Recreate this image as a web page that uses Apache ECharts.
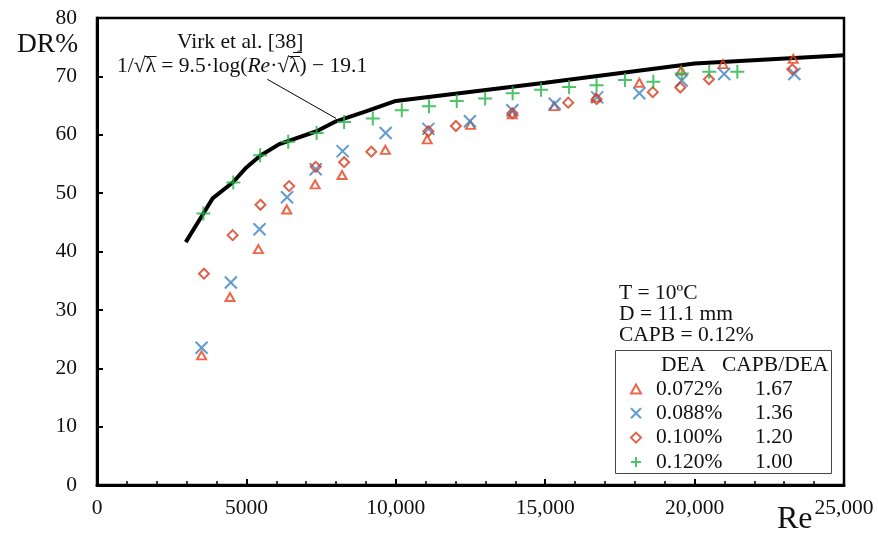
<!DOCTYPE html>
<html>
<head>
<meta charset="utf-8">
<script src="https://cdn.jsdelivr.net/npm/echarts@6/dist/echarts.min.js"></script>
<style>html,body{margin:0;padding:0;background:#fff}#c{width:878px;height:537px}</style>
</head>
<body>
<div id="c"></div>
<script>
// ---- data ----
const triX = [3500,4450,5400,6350,7300,8200,9650,11050,12500,13900,15300,16700,18150,19550,20950,23300];
const triY = [22.2,32.2,40.4,47.2,51.5,53.1,57.4,59.2,61.7,63.5,64.9,66.4,68.9,71.0,72.1,73.0];
const crossX = [3500,4480,5440,6360,7320,8220,9660,11090,12480,13900,15320,16740,18150,19570,20990,23340];
const crossY = [23.5,34.7,43.8,49.3,54.1,57.2,60.3,61.0,62.3,64.2,65.3,66.4,67.1,69.3,70.4,70.4];
const diaX = [3580,4540,5470,6430,7320,8270,9180,11090,12010,13900,15770,16720,18600,19520,20480,23270];
const diaY = [36.2,42.8,48.0,51.2,54.5,55.3,57.1,60.6,61.5,63.7,65.5,66.1,67.3,68.1,69.5,71.2];
const plusX = [3560,4560,5460,6400,7350,8270,9230,10200,11110,12040,12990,13910,14860,15800,16720,17670,18620,19570,20490,21430];
const plusY = [46.5,51.8,56.5,58.8,60.3,62.2,62.8,64.2,64.9,65.8,66.2,67.1,67.7,68.2,68.5,69.4,69.1,70.5,70.8,70.8];
const virkX = [2970,3560,3870,4560,5000,5460,6100,7350,8000,9000,10000,15000,20000,25000];
const virkY = [41.6,46.5,49.1,51.9,54.4,56.4,58.4,60.6,62.3,64.0,65.8,68.9,72.2,73.6];
const seriesNames = ['0.072%','0.088%','0.100%','0.120%'];
const ratios = ['1.67','1.36','1.20','1.00'];
const xTickLabels = {0:'0',5000:'5000',10000:'10,000',15000:'15,000',20000:'20,000',25000:'25,000'};
const arrowStart = [5700, 69.5];
const arrowEnd = [8000, 62.8];

const zip = (xs, ys) => xs.map((x, i) => [x, ys[i]]);
const FONT = 'Liberation Serif';
const FS = 21.5;
const F = FS + 'px "Liberation Serif"';
const FI = 'italic ' + F;
const TRANSP = 'rgba(0,0,0,0)';

// text measurement for the radical overbars
const mctx = document.createElement('canvas').getContext('2d');
const tw = (s, f) => { mctx.font = f; return mctx.measureText(s).width; };
const eqLeft = 117, eqTop = 55, barY = 56.5;
const b1x = eqLeft + tw('1/√', F);
const b1w = tw('λ', F);
const b2x = eqLeft + tw('1/√λ = 9.5·log(', F) + tw('Re', FI) + tw('·√', F);

const symbols = [
  'path://M5,0L10,9L0,9Z',
  'path://M0,0L10,10M10,0L0,10',
  'path://M5,0L10,5L5,10L0,5Z',
  'path://M5,0L5,10M0,5L10,5'
];
const colors = ['#E8401C', '#3A82C4', '#D63A1C', '#22B445'];
const sizes = [[9,8],[12,12],[10,10],[14,14]];
const datas = [zip(triX,triY), zip(crossX,crossY), zip(diaX,diaY), zip(plusX,plusY)];

const scatter = seriesNames.map((n, i) => ({
  name: n, type: 'scatter', data: datas[i], symbol: symbols[i], symbolSize: sizes[i],
  itemStyle: { color: TRANSP, borderColor: colors[i], borderWidth: 2 },
  emphasis: { disabled: true }, z: 3
}));

const chart = echarts.init(document.getElementById('c'), null, { renderer: 'canvas' });
chart.setOption({
  animation: false,
  backgroundColor: '#fff',
  textStyle: { fontFamily: FONT },
  grid: { left: 97, right: 34, top: 18, bottom: 52, show: true, borderColor: '#000', borderWidth: 2.5, backgroundColor: TRANSP },
  xAxis: {
    type: 'value', min: 0, max: 25000, interval: 5000,
    axisLine: { show: true, onZero: false, lineStyle: { color: '#000', width: 3 } },
    axisTick: { show: true, inside: true, length: 6, lineStyle: { color: '#000', width: 2 } },
    minorTick: { show: true, splitNumber: 5, length: 4, lineStyle: { color: '#000', width: 1.5 } },
    splitLine: { show: false },
    axisLabel: { margin: 12, fontSize: FS, color: '#111', fontFamily: FONT, formatter: v => xTickLabels[v] }
  },
  yAxis: {
    type: 'value', min: 0, max: 80, interval: 10,
    axisLine: { show: true, lineStyle: { color: '#000', width: 3 } },
    axisTick: { show: true, inside: true, length: 6, lineStyle: { color: '#000', width: 2 } },
    splitLine: { show: false },
    axisLabel: { margin: 20, fontSize: FS, color: '#111', fontFamily: FONT }
  },
  legend: {
    data: seriesNames, orient: 'vertical', left: 630, top: 378, padding: 0,
    itemWidth: 10, itemHeight: 10, itemGap: 2.3, selectedMode: false,
    formatter: name => {
      const i = seriesNames.indexOf(name);
      return '{s|}{p|' + name + '}{v|' + ratios[i] + '}';
    },
    textStyle: {
      fontFamily: FONT, fontSize: FS, color: '#111', lineHeight: 22,
      rich: {
        s: { width: 10, fontSize: FS, fontFamily: FONT, lineHeight: 22 },
        p: { width: 99, fontSize: FS, fontFamily: FONT, color: '#111', lineHeight: 22 },
        v: { fontSize: FS, fontFamily: FONT, color: '#111', lineHeight: 22 }
      }
    }
  },
  series: [
    {
      name: 'Virk', type: 'line', data: zip(virkX, virkY), showSymbol: false, symbol: 'none',
      lineStyle: { color: '#000', width: 4 }, z: 2, emphasis: { disabled: true },
      markLine: {
        silent: true, symbol: ['none', 'arrow'], symbolSize: [0, 9],
        lineStyle: { color: '#000', width: 1, type: 'solid' }, label: { show: false },
        data: [[{ coord: arrowStart }, { coord: arrowEnd }]]
      }
    },
    ...scatter
  ],
  graphic: [
    { type: 'text', left: 17, top: 31, style: { text: 'DR%', font: '27.5px "Liberation Serif"', fill: '#111' } },
    { type: 'text', left: 777, top: 504, style: { text: 'Re', font: '32px "Liberation Serif"', fill: '#111' } },
    { type: 'text', left: 177, top: 31, style: { text: 'Virk et al. [38]', font: F, fill: '#111' } },
    { type: 'line', shape: { x1: 293, y1: 52.5, x2: 302, y2: 52.5 }, style: { stroke: '#111', lineWidth: 1 } },
    { type: 'text', left: eqLeft, top: eqTop, style: {
        text: '{n|1/√λ = 9.5·log(}{i|Re}{n|·√λ) − 19.1}',
        rich: { n: { font: F, fill: '#111' }, i: { font: FI, fill: '#111' } }
      } },
    { type: 'line', shape: { x1: b1x - 0.5, y1: barY, x2: b1x + b1w + 0.5, y2: barY }, style: { stroke: '#111', lineWidth: 1 } },
    { type: 'line', shape: { x1: b2x - 0.5, y1: barY, x2: b2x + b1w + 0.5, y2: barY }, style: { stroke: '#111', lineWidth: 1 } },
    { type: 'text', left: 619, top: 282, style: { text: 'T = 10ºC', font: F, fill: '#111' } },
    { type: 'text', left: 619, top: 303, style: { text: 'D = 11.1 mm', font: F, fill: '#111' } },
    { type: 'text', left: 619, top: 324, style: { text: 'CAPB = 0.12%', font: F, fill: '#111' } },
    { type: 'rect', shape: { x: 615.5, y: 350.5, width: 216, height: 123 }, style: { fill: TRANSP, stroke: '#444', lineWidth: 1 } },
    { type: 'text', left: 661, top: 354, style: { text: 'DEA', font: F, fill: '#111' } },
    { type: 'text', left: 722, top: 354, style: { text: 'CAPB/DEA', font: F, fill: '#111' } }
  ]
});
</script>
</body>
</html>
